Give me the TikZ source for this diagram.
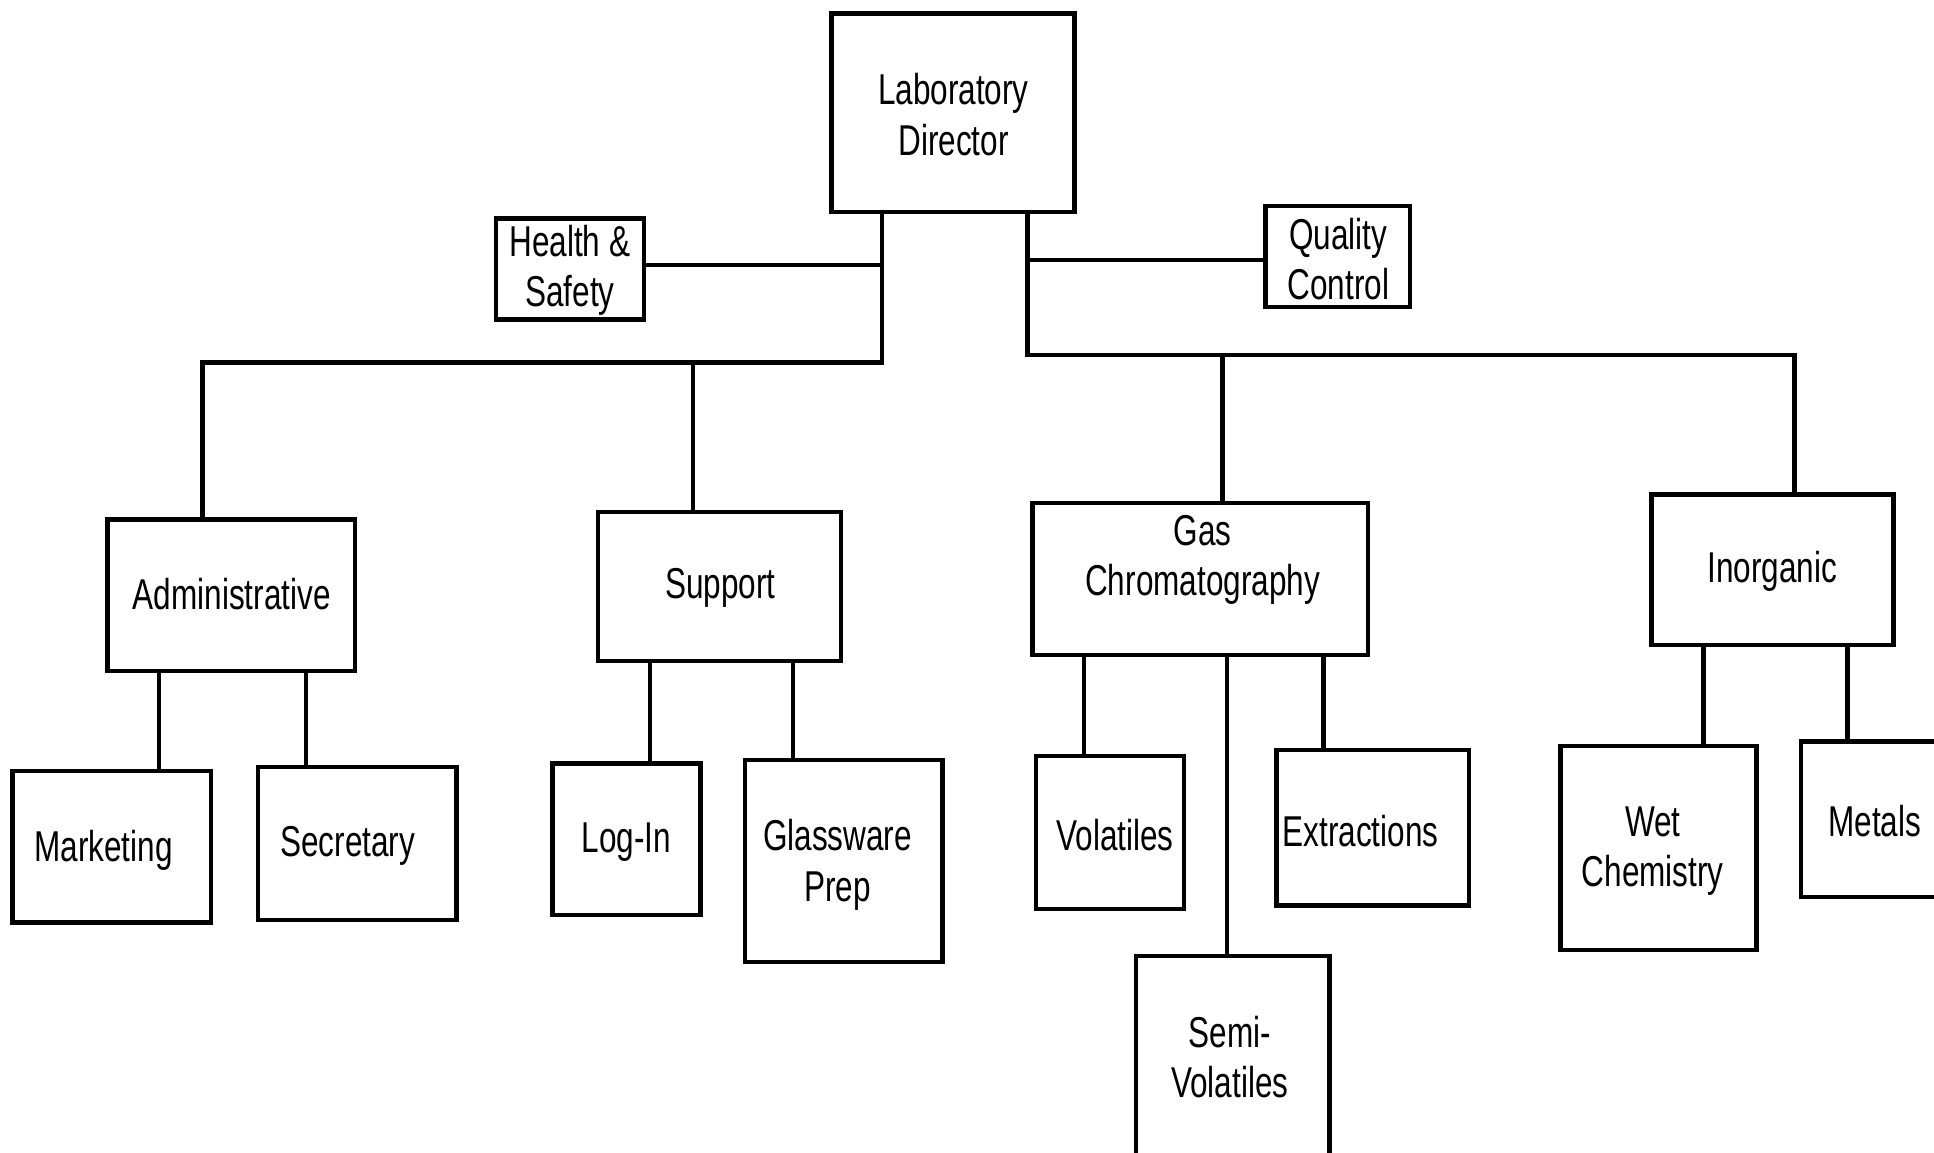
\documentclass[tikz,border=0pt]{standalone}
\usepackage{fontspec}
\setmainfont{Liberation Sans}[FakeStretch=0.73]
\usetikzlibrary{fit}
\begin{document}
\begin{tikzpicture}[x=0.5pt,y=-0.5pt,
  box/.style={draw, line width=1.8pt, inner sep=0pt},
  txt/.style={inner sep=0pt, align=center, font=\fontsize{17.5}{20.5}\selectfont},
  lnk/.style={line width=1.8pt}]
\useasboundingbox (0,0) rectangle (1568,934);
\clip (0,0) rectangle (1568,934);
% boxes
\node[box, fit={(674,11) (871,172)}] (dir) {};
\node[box, fit={(402,177) (522,259)}] (hs) {};
\node[box, fit={(1026,167) (1143,249)}] (qc) {};
\node[box, fit={(87,421) (288,544)}] (adm) {};
\node[box, fit={(485,415) (682,536)}] (sup) {};
\node[box, fit={(837,408) (1109,531)}] (gc) {};
\node[box, fit={(1339,401) (1535,523)}] (ino) {};
\node[box, fit={(10,625) (171,748)}] (mkt) {};
\node[box, fit={(209,622) (370,746)}] (sec) {};
\node[box, fit={(448,619) (568,742)}] (log) {};
\node[box, fit={(604,616) (764,780)}] (gla) {};
\node[box, fit={(840,613) (960,737)}] (vol) {};
\node[box, fit={(1035,608) (1191,734)}] (ext) {};
\node[box, fit={(921,775) (1078,945)}] (sem) {};
\node[box, fit={(1265,605) (1424,770)}] (wet) {};
\node[box, fit={(1460,601) (1580,727)}] (met) {};
% texts
\node[txt] (dirt) at (773,93) {Laboratory\\Director};
\node[txt] (hst) at (462,219) {Health \&\\Safety};
\node[txt] (qct) at (1085,210) {Quality\\Control};
\node[txt] (admt) at (188,482) {Administrative};
\node[txt] (supt) at (584,477) {Support};
\node[txt] (gct) at (975,454) {Gas\\Chromatography};
\node[txt] (inot) at (1437,463) {Inorganic};
\node[txt] (mktt) at (84,689) {Marketing};
\node[txt] (sect) at (282,686) {Secretary};
\node[txt] (logt) at (508,683) {Log-In};
\node[txt] (glat) at (679,701) {Glassware\\Prep};
\node[txt] (volt) at (904,677) {Volatiles};
\node[txt] (extt) at (1103,674) {Extractions};
\node[txt] (semt) at (997,857) {Semi-\\Volatiles};
\node[txt] (wett) at (1340,690) {Wet\\Chemistry};
\node[txt] (mett) at (1520,666) {Metals};
% connectors: left branch
\draw[lnk] (715,0 |- dir.south) -- (715,294) -| (164,0 |- adm.north);
\draw[lnk] (562,294) -- (562,0 |- sup.north);
\draw[lnk] (715,215) -- (hs.east |- 0,215);
% right branch
\draw[lnk] (833,0 |- dir.south) -- (833,288) -| (1455,0 |- ino.north);
\draw[lnk] (991,288) -- (991,0 |- gc.north);
\draw[lnk] (833,211) -- (qc.west |- 0,211);
% children
\draw[lnk] (129,0 |- adm.south) -- (129,0 |- mkt.north);
\draw[lnk] (248,0 |- adm.south) -- (248,0 |- sec.north);
\draw[lnk] (527,0 |- sup.south) -- (527,0 |- log.north);
\draw[lnk] (643,0 |- sup.south) -- (643,0 |- gla.north);
\draw[lnk] (879,0 |- gc.south) -- (879,0 |- vol.north);
\draw[lnk] (995,0 |- gc.south) -- (995,0 |- sem.north);
\draw[lnk] (1073,0 |- gc.south) -- (1073,0 |- ext.north);
\draw[lnk] (1381,0 |- ino.south) -- (1381,0 |- wet.north);
\draw[lnk] (1498,0 |- ino.south) -- (1498,0 |- met.north);
\end{tikzpicture}
\end{document}
